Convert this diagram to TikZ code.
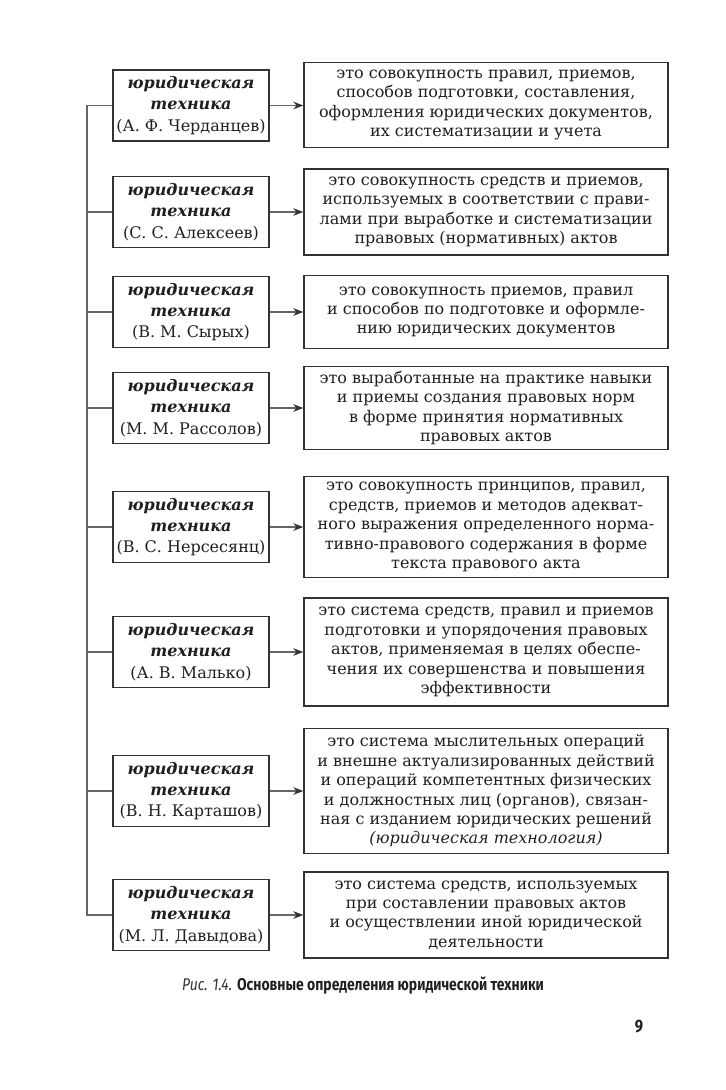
\documentclass[tikz,border=0pt]{standalone}
\usepackage{fontspec}
\usepackage{xcolor}
\usepackage{tikz}
\usetikzlibrary{arrows.meta}
\setmainfont{DejaVu Serif}
\newfontfamily\capfont[FakeStretch=0.82]{Fira Sans}
\definecolor{frame}{gray}{0.2}
\definecolor{wire}{gray}{0.4}
\definecolor{ink}{gray}{0.12}
\newcommand{\jurtech}{{\bfseries\itshape юридическая}\\{\bfseries\itshape техника}}

\begin{document}
\begin{tikzpicture}[x=0.5pt,y=-0.5pt,
	author/.style={draw=frame,line width=0.7pt,text=ink,align=center,inner sep=0pt,minimum width=78pt,minimum height=35.5pt,font=\fontsize{8}{10.7}\selectfont},
	meaning/.style={draw=frame,line width=0.7pt,text=ink,align=center,inner sep=0pt,minimum width=182pt,font=\fontsize{8}{9.7}\selectfont,execute at begin node={\rule{0pt}{9pt}}},
	link/.style={draw=wire,line width=0.7pt},
	pointer/.style={link,-{Stealth[length=5pt,width=3.8pt,color=frame]}}]
				\useasboundingbox (0,0) rectangle (726,1090);
				\coordinate (spine) at (87,0);%trunk line
				
				\node[author] (tech1) at (191,105.5) {\jurtech\\(А. Ф. Черданцев)};
				\node[author] (tech2) at (191,212) {\jurtech\\(С. С. Алексеев)};
				\node[author] (tech3) at (191,312) {\jurtech\\(В. М. Сырых)};
				\node[author] (tech4) at (191,408) {\jurtech\\(М. М. Рассолов)};
				\node[author] (tech5) at (191,527) {\jurtech\\(В. С. Нерсесянц)};
				\node[author] (tech6) at (191,652) {\jurtech\\(А. В. Малько)};
				\node[author] (tech7) at (191,791) {\jurtech\\(В. Н. Карташов)};
				\node[author] (tech8) at (191,915) {\jurtech\\(М. Л. Давыдова)};
				
				\node[meaning,minimum height=42.5pt] (def1) at (486,105) {это совокупность правил, приемов,\\способов подготовки, составления,\\оформления юридических документов,\\их систематизации и учета};
				\node[meaning,minimum height=43pt] (def2) at (486,212) {это совокупность средств и приемов,\\используемых в соответствии с прави-\\лами при выработке и систематизации\\правовых (нормативных) актов};
				\node[meaning,minimum height=36.5pt] (def3) at (486,312) {это совокупность приемов, правил\\и способов по подготовке и оформле-\\нию юридических документов};
				\node[meaning,minimum height=41.5pt] (def4) at (486,408) {это выработанные на практике навыки\\и приемы создания правовых норм\\в форме принятия нормативных\\правовых актов};
				\node[meaning,minimum height=50.5pt] (def5) at (486,527) {это совокупность принципов, правил,\\средств, приемов и методов адекват-\\ного выражения определенного норма-\\тивно-правового содержания в форме\\текста правового акта};
				\node[meaning,minimum height=54pt] (def6) at (486,652) {это система средств, правил и приемов\\подготовки и упорядочения правовых\\актов, применяемая в целях обеспе-\\чения их совершенства и повышения\\эффективности};
				\node[meaning,minimum height=62.5pt] (def7) at (486,791) {это система мыслительных операций\\и внешне актуализированных действий\\и операций компетентных физических\\и должностных лиц (органов), связан-\\ная с изданием юридических решений\\{\itshape (юридическая технология)}};
				\node[meaning,minimum height=43pt] (def8) at (486,915) {это система средств, используемых\\при составлении правовых актов\\и осуществлении иной юридической\\деятельности};
				
				\draw[link] (tech1.west) -- (spine |- tech1.west) -- (spine |- tech8.west) -- (tech8.west);
				\draw[link] (spine |- tech2.west) -- (tech2.west);
				\draw[link] (spine |- tech3.west) -- (tech3.west);
				\draw[link] (spine |- tech4.west) -- (tech4.west);
				\draw[link] (spine |- tech5.west) -- (tech5.west);
				\draw[link] (spine |- tech6.west) -- (tech6.west);
				\draw[link] (spine |- tech7.west) -- (tech7.west);
				
				\draw[pointer] (tech1.east) -- (tech1.east -| def1.west);
				\draw[pointer] (tech2) -- (def2);
				\draw[pointer] (tech3) -- (def3);
				\draw[pointer] (tech4) -- (def4);
				\draw[pointer] (tech5) -- (def5);
				\draw[pointer] (tech6) -- (def6);
				\draw[pointer] (tech7) -- (def7);
				\draw[pointer] (tech8) -- (def8);
				
				\node[font=\capfont\fontsize{8.5}{10}\selectfont] (caption) at (363,986) {\textcolor{frame}{\itshape Рис. 1.4.} \textcolor{ink}{\bfseries Основные определения юридической техники}};
				\node[font=\capfont\bfseries\fontsize{9}{10}\selectfont,text=ink] (pagenum) at (639,1027) {9};
			\end{tikzpicture}
\end{document}
